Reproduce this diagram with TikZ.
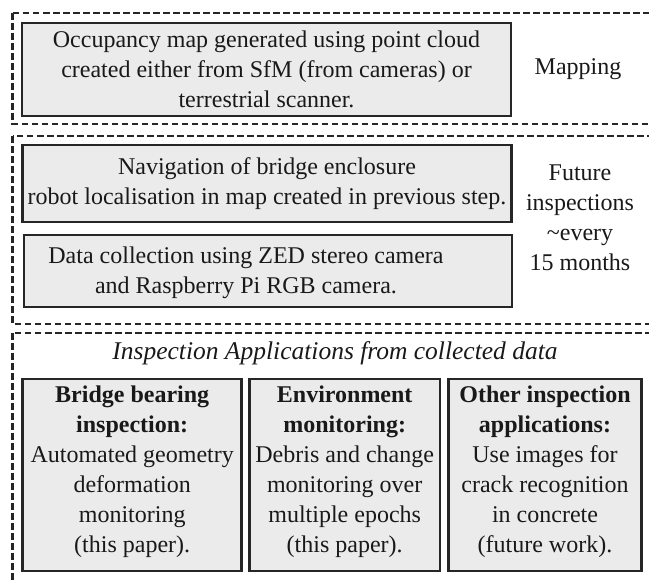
\documentclass[tikz,border=0pt]{standalone}
\usepackage{fontspec}
\setmainfont{Liberation Serif}
\begin{document}
\begin{tikzpicture}[x=1pt,y=-1pt,
  frame/.style={draw=black!85, line width=2.2pt, dash pattern=on 6.5pt off 3.5pt},
  box/.style={draw=black!85, line width=2.6pt, fill=black!8, inner sep=0pt},
  txt/.style={font=\fontsize{24}{30}\selectfont, text=black!90, align=center, inner sep=0pt}]
\useasboundingbox (0,0) rectangle (649,581);
\begin{scope}
\clip (0,0) rectangle (649,581);
\draw[frame] (12.5,13) rectangle (700,124);
\draw[frame] (12.5,136) rectangle (700,324);
\draw[frame] (12.5,333) rectangle (700,620);
\end{scope}
% top section
\node[box, minimum width=489pt, minimum height=93pt] (b1) at (266.5,69.5) {};
\node[txt] (t1) at (b1) {Occupancy map generated using point cloud\\created either from SfM (from cameras) or\\terrestrial scanner.};
\node[txt] (map) at (578,69.5) {Mapping};
% middle section
\node[box, minimum width=489pt, minimum height=77pt] (b2) at (267,183.5) {};
\node[txt] (t2) at (b2) {Navigation of bridge enclosure\\robot localisation in map created in previous step.};
\node[box, minimum width=488pt, minimum height=72pt] (b3) at (268,271) {};
\node[txt] (t3) at (246,273) {Data collection using ZED stereo camera\\and Raspberry Pi RGB camera.};
\node[txt] (fut) at (580,217.5) {Future\\inspections\\\textasciitilde every\\15 months};
% bottom section
\node[txt, font=\fontsize{25.5}{30}\selectfont\itshape] (ia) at (335,353) {Inspection Applications from collected data};
\node[box, minimum width=219pt, minimum height=192pt] (c1) at (132.2,475) {};
\node[txt] (u1) at (132.2,472) {\textbf{Bridge bearing}\\\textbf{inspection:}\\Automated geometry\\deformation\\monitoring\\(this paper).};
\node[box, minimum width=190.7pt, minimum height=192pt] (c2) at (344.7,475) {};
\node[txt] (u2) at (344.7,472) {\textbf{Environment}\\\textbf{monitoring:}\\Debris and change\\monitoring over\\multiple epochs\\(this paper).};
\node[box, minimum width=193.4pt, minimum height=192pt] (c3) at (545,475) {};
\node[txt] (u3) at (545,472) {\textbf{Other inspection}\\\textbf{applications:}\\Use images for\\crack recognition\\in concrete\\(future work).};
\end{tikzpicture}
\end{document}
